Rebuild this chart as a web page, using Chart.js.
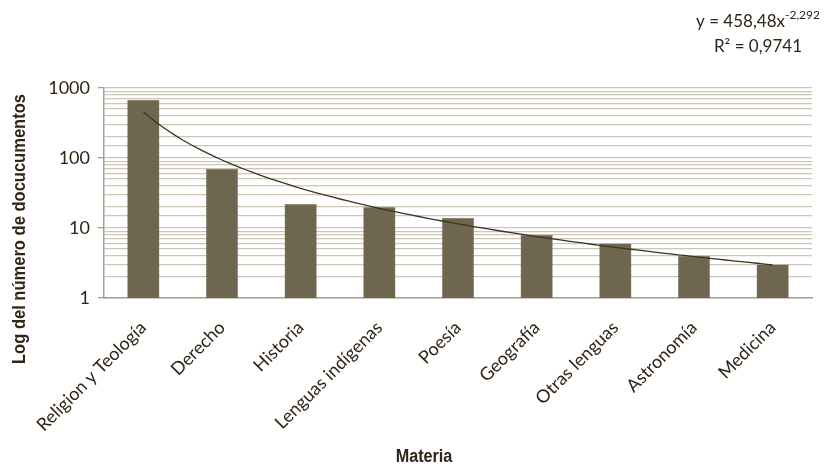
<!DOCTYPE html>
<html>
<head>
<meta charset="utf-8">
<script src="https://cdn.jsdelivr.net/npm/chart.js@4/dist/chart.umd.min.js"></script>
<style>
  html, body { margin: 0; padding: 0; background: #ffffff; }
  #wrap { width: 827px; height: 466px; }
</style>
</head>
<body>
<div id="wrap"><canvas id="c" width="827" height="466"></canvas></div>
<script>
// Documents per subject (log scale)
const categories = ['Religion y Teología', 'Derecho', 'Historia', 'Lenguas indígenas', 'Poesía', 'Geografía', 'Otras lenguas', 'Astronomía', 'Medicina'];
const documentos = [680, 70, 22, 20, 14, 8, 6, 4, 3];
const yTickLabels = [1, 10, 100, 1000];

// Power-law fit y = a·x^b over subject rank x = 1..9
const fitA = 458.48;
const fitB = -2.292;
const fitR2 = '0,9741';

const TEXT = '#2f2516';
const GRID = '#cdc6b6';
const AXIS = '#a89f8c';
const BAR = '#6f6650';
const SANS = 'Lato, "Open Sans", sans-serif';
const BOLD_TITLE = 'bold 19px "Liberation Sans", Arial, sans-serif';

const fitPoints = [];
for (let k = 0; k <= 80; k++) {
  const x = k / 10;                 // category index 0..8
  fitPoints.push({ x: x, y: fitA * Math.pow(x + 1, fitB) });
}

// Condensed bold text, squeezed horizontally
function narrowText(ctx, text, x, y, rot, sx) {
  ctx.save();
  ctx.translate(x, y);
  ctx.rotate(rot);
  ctx.scale(sx, 1);
  ctx.textAlign = 'center';
  ctx.textBaseline = 'middle';
  ctx.fillText(text, 0, 0);
  ctx.restore();
}

// Equation label and axis titles
const overlay = {
  id: 'overlay',
  afterDraw(chart) {
    const ctx = chart.ctx;
    ctx.save();
    ctx.fillStyle = TEXT;
    ctx.textBaseline = 'alphabetic';
    const cx = 758;
    ctx.font = '17px ' + SANS;
    const base = 'y = ' + String(fitA).replace('.', ',') + 'x';
    const sup = String(fitB).replace('.', ',');
    const wBase = ctx.measureText(base).width;
    ctx.font = '12px ' + SANS;
    const wSup = ctx.measureText(sup).width;
    const x0 = cx - (wBase + wSup) / 2;
    ctx.font = '17px ' + SANS;
    ctx.textAlign = 'left';
    ctx.fillText(base, x0, 27);
    ctx.font = '12px ' + SANS;
    ctx.fillText(sup, x0 + wBase, 19);
    ctx.font = '17px ' + SANS;
    ctx.textAlign = 'center';
    ctx.fillText('R² = ' + fitR2, cx, 52);

    ctx.font = BOLD_TITLE;
    narrowText(ctx, 'Log del número de docucumentos', 19.5, 229, -Math.PI / 2, 0.87);
    ctx.font = 'bold 18px "Liberation Sans", Arial, sans-serif';
    narrowText(ctx, 'Materia', 424, 457, 0, 0.9);
    ctx.restore();
  }
};

new Chart(document.getElementById('c'), {
  type: 'bar',
  data: {
    labels: categories,
    datasets: [
      {
        type: 'line',
        data: fitPoints,
        xAxisID: 'xfit',
        borderColor: '#3d3322',
        borderWidth: 1.3,
        pointRadius: 0,
        tension: 0,
        order: 0
      },
      {
        data: documentos,
        backgroundColor: BAR,
        borderColor: '#8a8068',
        borderWidth: 0.5,
        grouped: false,
        categoryPercentage: 1,
        barPercentage: 0.41,
        order: 1
      }
    ]
  },
  options: {
    responsive: false,
    animation: false,
    layout: { padding: { top: 88, right: 15, left: 0, bottom: 0 } },
    plugins: { legend: { display: false }, tooltip: { enabled: false } },
    scales: {
      x: {
        type: 'category',
        offset: true,
        grid: { display: false, drawTicks: false },
        border: { display: true, color: AXIS, width: 1.5 },
        ticks: {
          color: TEXT,
          font: { size: 18, family: SANS },
          maxRotation: 45,
          minRotation: 45,
          padding: 19,
          autoSkip: false
        },
        afterFit(scale) { scale.height = 466 - 298; }
      },
      xfit: {
        type: 'linear',
        display: false,
        offset: false,
        grid: { offset: false },
        min: -0.5,
        max: 8.5
      },
      y: {
        type: 'logarithmic',
        min: 1,
        max: 1000,
        grid: {
          color: GRID,
          lineWidth: 1.3,
          drawTicks: true,
          tickLength: 6,
          tickColor: (c) => (c.tick && yTickLabels.includes(c.tick.value) ? AXIS : 'rgba(0,0,0,0)')
        },
        border: { display: true, color: AXIS, width: 1.5 },
        ticks: {
          color: TEXT,
          font: { size: 18, family: SANS },
          padding: 8,
          autoSkip: false,
          callback: (v) => (yTickLabels.includes(v) ? String(v) : '')
        },
        afterFit(scale) { scale.width = 104; }
      }
    }
  },
  plugins: [overlay]
});
</script>
</body>
</html>
